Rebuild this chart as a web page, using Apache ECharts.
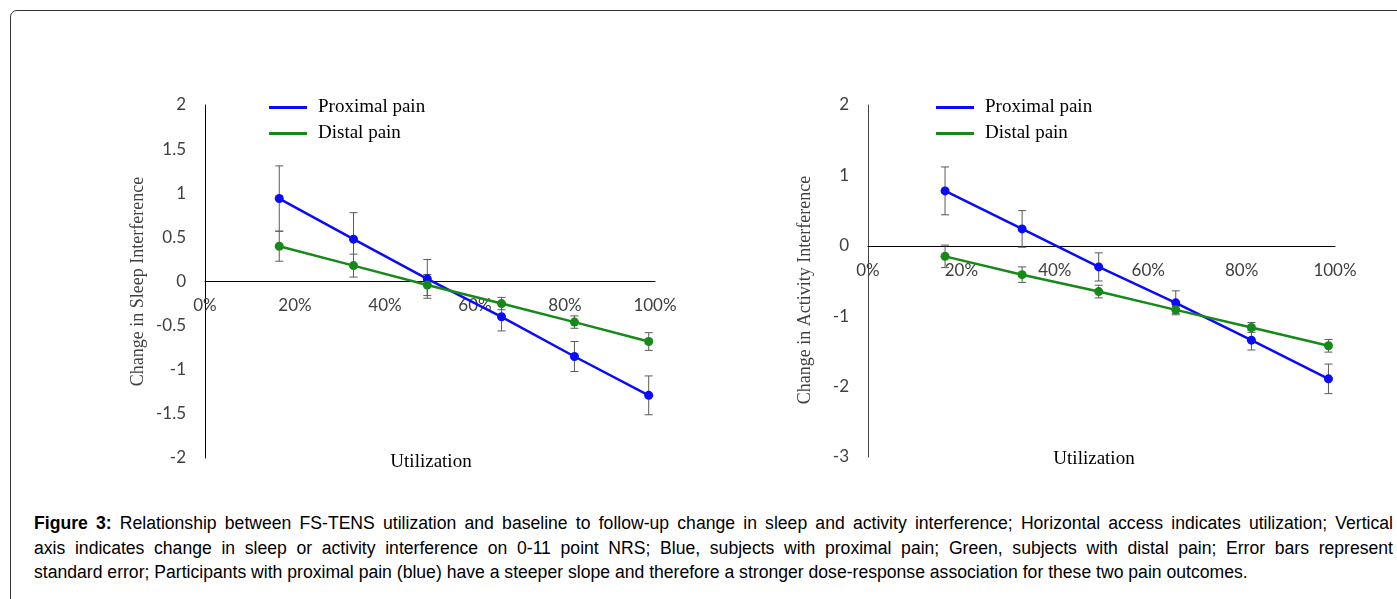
<!DOCTYPE html>
<html>
<head>
<meta charset="utf-8">
<script src="https://cdn.jsdelivr.net/npm/echarts@6/dist/echarts.min.js"></script>
<style>
body{margin:0;background:#fff;overflow:hidden;}
#frame{position:absolute;left:10px;top:10px;width:1420px;height:620px;border:1px solid #333;border-radius:7px 0 0 0;}
#chartsdiv{position:absolute;left:0;top:0;width:1397px;height:500px;}
#caption{position:absolute;left:34px;top:511px;width:1359px;font-family:"Liberation Sans",Arial,sans-serif;font-size:17.6px;line-height:24.5px;color:#000;}
.jl{text-align:justify;text-align-last:justify;}
</style>
</head>
<body>
<div id="frame"></div>
<div id="chartsdiv"></div>
<div id="caption">
<div class="jl"><b>Figure 3:</b> Relationship between FS-TENS utilization and baseline to follow-up change in sleep and activity interference; Horizontal access indicates utilization; Vertical</div>
<div class="jl">axis indicates change in sleep or activity interference on 0-11 point NRS; Blue, subjects with proximal pain; Green, subjects with distal pain; Error bars represent</div>
<div>standard error; Participants with proximal pain (blue) have a steeper slope and therefore a stronger dose-response association for these two pain outcomes.</div>
</div>
<script>
// 利用率位置 (%)
var xPos = [16.5, 33, 49.4, 65.9, 82.1, 98.6];
// 睡眠干扰
var sleepProximal = [0.94, 0.48, 0.03, -0.40, -0.85, -1.29];
var sleepProximalSE = [0.37, 0.30, 0.22, 0.16, 0.17, 0.22];
var sleepDistal = [0.40, 0.18, -0.04, -0.25, -0.46, -0.68];
var sleepDistalSE = [0.17, 0.13, 0.12, 0.07, 0.07, 0.10];
// 活动干扰
var activityProximal = [0.78, 0.24, -0.30, -0.81, -1.34, -1.89];
var activityProximalSE = [0.34, 0.26, 0.20, 0.17, 0.14, 0.21];
var activityDistal = [-0.15, -0.41, -0.65, -0.91, -1.16, -1.42];
var activityDistalSE = [0.16, 0.11, 0.09, 0.05, 0.07, 0.09];

var blue = '#0a0aff';
var green = '#168a16';
var serif = '"Liberation Serif","Times New Roman",serif';
var sans = 'Lato, "Noto Sans", sans-serif';

function pts(v) {
    return xPos.map(function (x, i) { return [x, v[i]]; });
}
function bars(v, se) {
    return xPos.map(function (x, i) { return [x, v[i] - se[i], v[i] + se[i]]; });
}
function renderBar(params, api) {
    var x = api.value(0);
    var lo = api.coord([x, api.value(1)]);
    var hi = api.coord([x, api.value(2)]);
    var st = { stroke: '#5a5a5a', lineWidth: 1 };
    return {
        type: 'group', children: [
            { type: 'line', shape: { x1: lo[0], y1: lo[1], x2: hi[0], y2: hi[1] }, style: st },
            { type: 'line', shape: { x1: lo[0] - 4, y1: lo[1], x2: lo[0] + 4, y2: lo[1] }, style: st },
            { type: 'line', shape: { x1: hi[0] - 4, y1: hi[1], x2: hi[0] + 4, y2: hi[1] }, style: st }
        ]
    };
}
// x轴放在0的位置 (offset 向上移动)
function xAx(idx, off) {
    return {
        type: 'value', gridIndex: idx, min: 0, max: 100, interval: 20, offset: off,
        axisLine: { onZero: false, lineStyle: { color: '#000', width: 1 } },
        axisTick: { show: false }, splitLine: { show: false },
        axisLabel: { formatter: '{value}%', fontFamily: sans, fontSize: 17, color: '#404040', margin: 16 }
    };
}
function yAx(idx, min, max, step, name, gap, pad, lineColor) {
    return {
        type: 'value', gridIndex: idx, min: min, max: max, interval: step,
        name: name, nameLocation: 'middle', nameGap: gap,
        nameTextStyle: { fontFamily: serif, fontSize: 18, color: '#404040', padding: pad },
        axisLine: { show: true, onZero: false, lineStyle: { color: lineColor, width: 1 } },
        axisTick: { show: false }, splitLine: { show: false },
        axisLabel: { fontFamily: sans, fontSize: 17, color: '#404040', margin: 19 }
    };
}
function lineSeries(name, idx, v, color) {
    return {
        name: name, type: 'line', xAxisIndex: idx, yAxisIndex: idx, data: pts(v),
        symbol: 'circle', symbolSize: 9, z: 3,
        itemStyle: { color: color }, lineStyle: { color: color, width: 2.5 }
    };
}
function barSeries(idx, v, se) {
    return {
        type: 'custom', xAxisIndex: idx, yAxisIndex: idx, data: bars(v, se),
        renderItem: renderBar, encode: { x: 0, y: [1, 2] }, z: 2, silent: true
    };
}
function legendAt(left) {
    return {
        left: left, top: 93, orient: 'vertical', icon: 'rect', itemWidth: 38, itemHeight: 3, itemGap: 7,
        data: ['Proximal pain', 'Distal pain'],
        textStyle: { fontFamily: serif, fontSize: 19, color: '#000', padding: [0, 0, 0, 6] }
    };
}

var myChart = echarts.init(document.getElementById('chartsdiv'));
var option = {
    animation: false,
    legend: [legendAt(264), legendAt(931)],
    grid: [
        { left: 205, top: 105, width: 450, height: 353 },
        { left: 868, top: 105, width: 467, height: 352 }
    ],
    xAxis: [xAx(0, -176.5), xAx(1, -211.2)],
    yAxis: [
        yAx(0, -2, 2, 0.5, 'Change in Sleep Interference', 58, 0, '#000'),
        yAx(1, -3, 2, 1, 'Change in Activity Interference', 54, [0, 18, 0, 0], '#444')
    ],
    graphic: [
        { type: 'text', x: 431, y: 462, style: { text: 'Utilization', fontFamily: serif, fontSize: 19, fill: '#000', align: 'center', verticalAlign: 'middle' } },
        { type: 'text', x: 1094, y: 459, style: { text: 'Utilization', fontFamily: serif, fontSize: 19, fill: '#000', align: 'center', verticalAlign: 'middle' } }
    ],
    series: [
        barSeries(0, sleepProximal, sleepProximalSE),
        barSeries(0, sleepDistal, sleepDistalSE),
        lineSeries('Proximal pain', 0, sleepProximal, blue),
        lineSeries('Distal pain', 0, sleepDistal, green),
        barSeries(1, activityProximal, activityProximalSE),
        barSeries(1, activityDistal, activityDistalSE),
        lineSeries('Proximal pain', 1, activityProximal, blue),
        lineSeries('Distal pain', 1, activityDistal, green)
    ]
};
myChart.setOption(option);
</script>
</body>
</html>
